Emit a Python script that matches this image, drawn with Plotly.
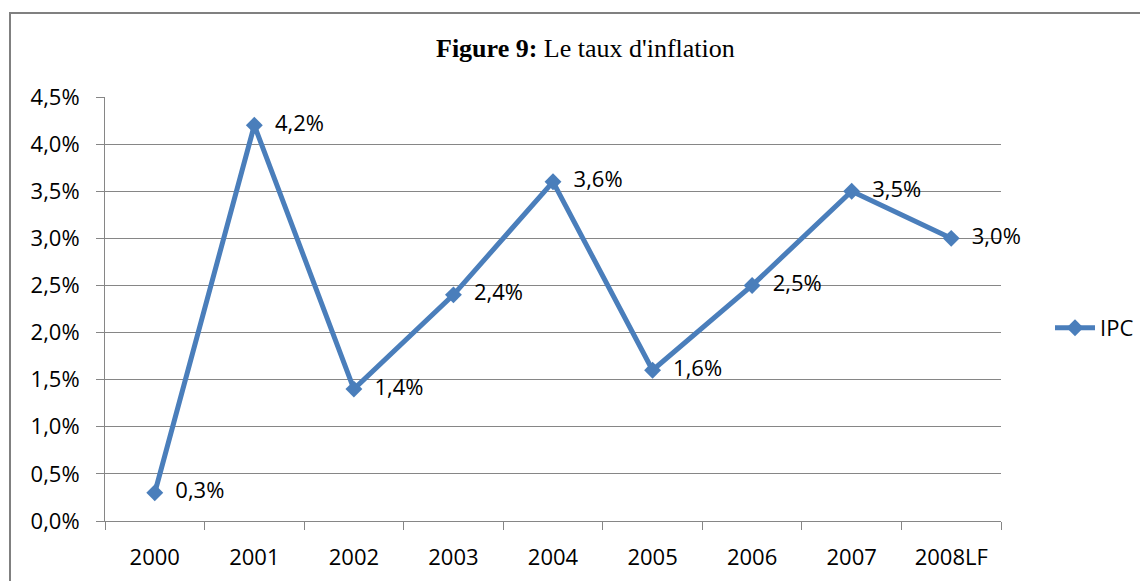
import plotly.graph_objects as go

categories = ["2000", "2001", "2002", "2003", "2004", "2005", "2006", "2007", "2008LF"]
ipc_values = [0.3, 4.2, 1.4, 2.4, 3.6, 1.6, 2.5, 3.5, 3.0]
y_tick_values = [0.0, 0.5, 1.0, 1.5, 2.0, 2.5, 3.0, 3.5, 4.0, 4.5]

def fmt(v):
    return f"{v:.1f}%".replace(".", ",")

labels = ["\u00a0\u00a0" + fmt(v) for v in ipc_values]
y_tick_text = [fmt(v) for v in y_tick_values]

BLUE = "#4A7EBB"
GRID = "#868686"
FONT = "Open Sans"
FS = 22

fig = go.Figure()
fig.add_trace(go.Scatter(
    x=categories, y=ipc_values, name="IPC",
    mode="lines+markers+text",
    line=dict(color=BLUE, width=5),
    marker=dict(symbol="diamond", size=13, color=BLUE),
    text=labels, textposition="middle right",
    textfont=dict(family=FONT, size=FS, color="black"),
    cliponaxis=False,
))

# page has an 8px body margin; work in page pixels and convert
OX, OY = 8, 8
W, H = 1148 - OX, 581 - OY
PL, PR, PT, PB = 105, 1001, 97, 521  # plot area in page pixels
L, T = PL - OX, PT - OY
R, B = W - (PR - OX), H - (PB - OY)
pw, ph = PR - PL, PB - PT

def px_x(x):
    return (x - PL) / pw

def px_y(y):
    return (PB - y) / ph

fig.update_layout(
    width=W, height=H,
    margin=dict(l=L, r=R, t=T, b=B, autoexpand=False),
    paper_bgcolor="white", plot_bgcolor="white",
    font=dict(family=FONT, size=FS, color="black"),
    showlegend=True,
    legend=dict(x=px_x(1050), y=px_y(328), xanchor="left", yanchor="middle",
                font=dict(family=FONT, size=FS, color="black"),
                bgcolor="rgba(0,0,0,0)", itemwidth=40),
    xaxis=dict(
        type="category", range=[-0.5, 8.5],
        showline=True, linecolor=GRID, linewidth=1,
        ticks="outside", ticklen=8, tickcolor=GRID, tickson="boundaries",
        showgrid=False, zeroline=False,
        tickfont=dict(family=FONT, size=FS, color="black"),
        ticklabelstandoff=17,
    ),
    yaxis=dict(
        range=[0, 4.5],
        tickvals=y_tick_values, ticktext=y_tick_text,
        showline=True, linecolor=GRID, linewidth=1,
        ticks="outside", ticklen=8, tickcolor=GRID,
        showgrid=True, gridcolor=GRID, gridwidth=1,
        zeroline=False,
        tickfont=dict(family=FONT, size=FS, color="black"),
        ticklabelstandoff=12,
    ),
    annotations=[dict(
        xref="paper", yref="paper", x=px_x(585), y=px_y(48),
        xanchor="center", yanchor="middle", showarrow=False,
        text="<b>Figure 9:</b> Le taux d'inflation",
        font=dict(family="Liberation Serif", size=26, color="black"),
    )],
    shapes=[dict(
        type="rect", xref="paper", yref="paper",
        x0=px_x(10), x1=px_x(1170), y0=px_y(13), y1=px_y(600),
        line=dict(color="#808080", width=2), fillcolor="rgba(0,0,0,0)",
        layer="below",
    )],
)

fig.write_html("out.html")
